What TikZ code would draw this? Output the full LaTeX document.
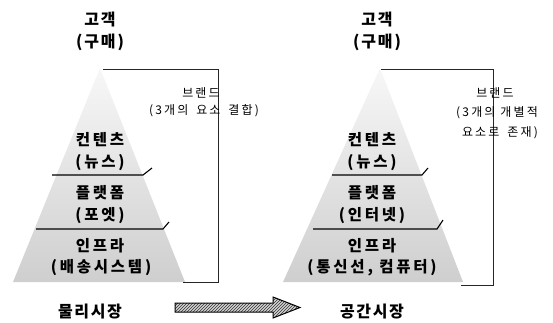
\documentclass[tikz,border=0pt]{standalone}
\usepackage{fontspec}
\setmainfont{Noto Sans CJK KR}
\usetikzlibrary{patterns}
\tikzset{
  ttl/.style={font=\fontsize{16}{18}\selectfont\bfseries\addfontfeatures{LetterSpace=12}, inner sep=0pt, anchor=center},
  lyr/.style={font=\fontsize{15.5}{17}\selectfont\bfseries\addfontfeatures{LetterSpace=18}, inner sep=0pt, anchor=center},
  brd/.style={font=\fontsize{12}{14}\selectfont\addfontfeatures{LetterSpace=18}, inner sep=0pt, anchor=center},
  pyr/.style={top color=gray!6, bottom color=gray!38, draw=none},
  divl/.style={line width=1.1pt, black},
  brk/.style={line width=0.8pt, black!85},
  mkt/.style={font=\fontsize{16}{18}\selectfont\bfseries\addfontfeatures{LetterSpace=10}, inner sep=0pt, anchor=center}
}
\begin{document}
\begin{tikzpicture}[x=1pt,y=-1pt]
\useasboundingbox (0,0) rectangle (553,322);
% ---------- left pyramid ----------
\coordinate (LA) at (100,68);
\coordinate (LL) at (13,282);
\coordinate (LR) at (185,282);
\shade[pyr] (LA) -- (LR) -- (LL) -- cycle;
\coordinate (Lb1) at (103,69);
\coordinate (Lb2) at (218,69);
\coordinate (Lb3) at (218,282);
\coordinate (Lb4) at (183,282);
\draw[brk] (Lb1) -- (Lb2) -- (Lb3) -- (Lb4);
\coordinate (Ld1a) at (52,175);
\coordinate (Ld1b) at (143,175);
\coordinate (Ld1c) at (152,168);
\draw[divl] (Ld1a) -- (Ld1b) -- (Ld1c);
\coordinate (Ld2a) at (36,229);
\coordinate (Ld2b) at (163,229);
\coordinate (Ld2c) at (169,222);
\draw[divl] (Ld2a) -- (Ld2b) -- (Ld2c);
\node[ttl] (Lc1) at (100,20) {고객};
\node[ttl] (Lc2) at (100,42) {(구매)};
\node[brd] (Lbr1) at (201,93) {브랜드};
\node[brd] (Lbr2) at (204,111) {(3개의\hspace{3pt} 요소\hspace{3pt} 결합)};
\node[lyr] (L1) at (100,140) {컨텐츠};
\node[lyr] (L2) at (100,163) {(뉴스)};
\node[lyr] (L3) at (100,193) {플랫폼};
\node[lyr] (L4) at (100,216) {(포엣)};
\node[lyr] (L5) at (100,246) {인프라};
\node[lyr] (L6) at (101,268) {(배송시스템)};
% ---------- right pyramid ----------
\coordinate (RA) at (380,68);
\coordinate (RL) at (283,282);
\coordinate (RR) at (463,282);
\shade[pyr] (RA) -- (RR) -- (RL) -- cycle;
\coordinate (Rb1) at (381,69);
\coordinate (Rb2) at (493,69);
\coordinate (Rb3) at (493,285);
\coordinate (Rb4) at (461,285);
\draw[brk] (Rb1) -- (Rb2) -- (Rb3) -- (Rb4);
\coordinate (Rd1a) at (332,175);
\coordinate (Rd1b) at (422,175);
\coordinate (Rd1c) at (428,168);
\draw[divl] (Rd1a) -- (Rd1b) -- (Rd1c);
\coordinate (Rd2a) at (313,229);
\coordinate (Rd2b) at (437,229);
\coordinate (Rd2c) at (443,220);
\draw[divl] (Rd2a) -- (Rd2b) -- (Rd2c);
\node[ttl] (Rc1) at (377,20) {고객};
\node[ttl] (Rc2) at (377,42) {(구매)};
\node[brd] (Rbr1) at (495,93) {브랜드};
\node[brd] (Rbr2) at (497,113) {(3개의 개별적};
\node[brd] (Rbr3) at (500,133) {요소로\hspace{8pt}존재)};
\node[lyr] (R1) at (372,140) {컨텐츠};
\node[lyr] (R2) at (372,163) {(뉴스)};
\node[lyr] (R3) at (372,193) {플랫폼};
\node[lyr] (R4) at (372,216) {(인터넷)};
\node[lyr] (R5) at (372,246) {인프라};
\node[lyr] (R6) at (372,268) {(통신선, 컴퓨터)};
% ---------- bottom ----------
\node[mkt] (M1) at (90,312) {물리시장};
\node[mkt] (M2) at (372,312) {공간시장};
\path[fill=gray!35] (175,303) -- (273,303) -- (273,297) -- (300,307.5) -- (273,318) -- (273,312) -- (175,312) -- cycle;
\path[pattern=north east lines, pattern color=black!80] (175,303) -- (273,303) -- (273,297) -- (300,307.5) -- (273,318) -- (273,312) -- (175,312) -- cycle;
\draw[line width=1pt, line join=miter] (175,303) -- (273,303) -- (273,297) -- (300,307.5) -- (273,318) -- (273,312) -- (175,312) -- cycle;
\end{tikzpicture}
\end{document}
